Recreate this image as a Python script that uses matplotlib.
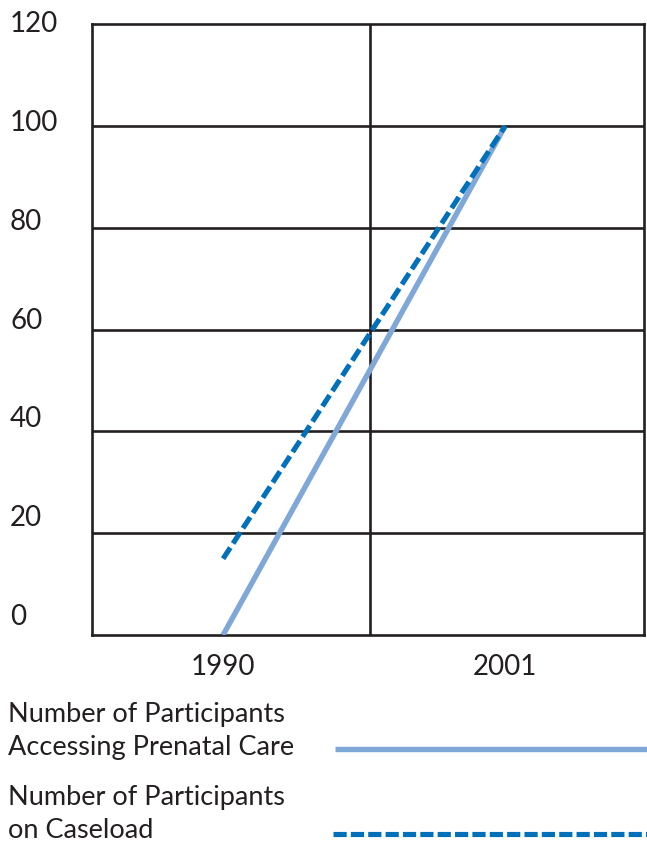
import matplotlib
matplotlib.use("Agg")
import matplotlib.pyplot as plt
from matplotlib.transforms import ScaledTranslation, blended_transform_factory

plt.rcParams['font.family'] = ['Lato', 'DejaVu Sans']
plt.rcParams['lines.scale_dashes'] = False

years = ["1990", "2001"]
prenatal = [0, 100]
caseload = [15, 100]
yticks = [0, 20, 40, 60, 80, 100, 120]
series_labels = ["Number of Participants\nAccessing Prenatal Care",
                 "Number of Participants\non Caseload"]

W, H = 647, 842
fig = plt.figure(figsize=(W / 100, H / 100), dpi=100)
ax = fig.add_axes([92 / W, 1 - 635 / H, (644 - 92) / W, (635 - 24.5) / H])

grid_c = '#231f20'
light = '#7fa8d9'
dark = '#0070bb'

x = list(range(len(years)))
ax.set_xlim(-0.465, 1.493)
ax.set_ylim(0, 120)
for v in yticks[1:-1]:
    ax.axhline(v, color=grid_c, lw=1.9, zorder=1)
ax.axvline(0.52, color=grid_c, lw=1.9, zorder=1)
for s in ax.spines.values():
    s.set_color(grid_c)
    s.set_linewidth(1.9)

ax.plot(x, prenatal, color=light, lw=3.9, solid_capstyle='butt', zorder=3)
ax.plot(x, caseload, color=dark, lw=3.7, dashes=(9.5, 3.6), dash_capstyle='butt', zorder=4)

ax.set_xticks(x)
ax.set_xticklabels(years, fontsize=20, color='#231f20')
ax.tick_params(axis='x', length=0, pad=14)
ax.set_yticks([])

# y labels at figure left edge
trans = blended_transform_factory(fig.transFigure, ax.transData)
for v in yticks:
    off = ScaledTranslation(0, (120 - v) * 0.15 / 100, fig.dpi_scale_trans)
    ax.text(10 / W, v, str(v), transform=trans + off, ha='left', va='center',
            fontsize=20, color='#231f20')

# legend
fig.text(8 / W, 1 - 731 / H, series_labels[0], ha='left', va='center', fontsize=19.5,
         color='#231f20', linespacing=1.38)
fig.text(8 / W, 1 - 814 / H, series_labels[1], ha='left', va='center', fontsize=19.5,
         color='#231f20', linespacing=1.38)
fig.add_artist(plt.Line2D([335 / W, 1.0], [1 - 748.5 / H] * 2, transform=fig.transFigure,
                          color=light, lw=3.9, solid_capstyle='butt'))
fig.add_artist(plt.Line2D([333 / W, 1.0], [1 - 834 / H] * 2, transform=fig.transFigure,
                          color=dark, lw=3.7, dashes=(9.5, 3.0), dash_capstyle='butt'))

fig.savefig("out.png", dpi=100)
